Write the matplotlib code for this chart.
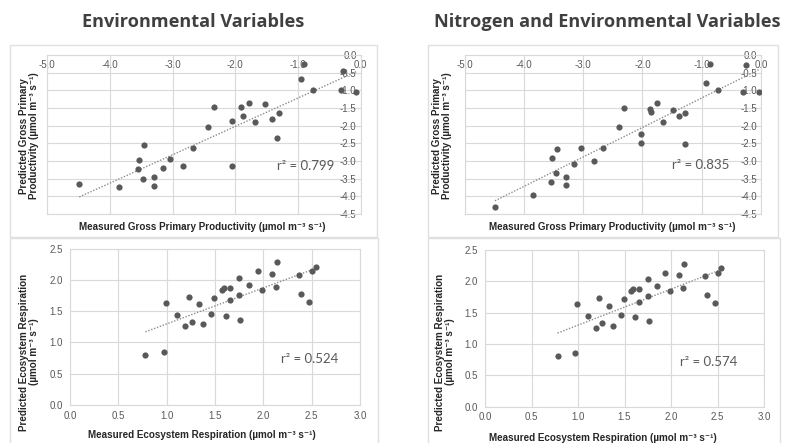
import numpy as np
import matplotlib
matplotlib.use("Agg")
import matplotlib.pyplot as plt
from matplotlib.patches import Rectangle

# measured vs predicted GPP (environmental variables only)
gpp_meas_env = [-4.49, -3.86, -3.46, -3.54, -3.56, -3.47, -3.30, -3.30, -3.16, -3.05,
                -2.84, -2.67, -2.43, -2.34, -2.05, -2.05, -1.91, -1.88, -1.79, -1.69,
                -1.52, -1.42, -1.31, -1.33, -0.96, -0.91, -0.76, -0.29, -0.32, -0.07]
gpp_pred_env = [-3.66, -3.75, -2.55, -2.98, -3.22, -3.50, -3.46, -3.71, -3.19, -2.93,
                -3.13, -2.63, -2.04, -1.48, -1.86, -3.14, -1.46, -1.72, -1.36, -1.89,
                -1.38, -1.81, -1.63, -2.34, -0.68, -0.25, -0.98, -0.44, -0.99, -1.04]

# measured vs predicted GPP (nitrogen + environmental variables)
gpp_meas_n = [-4.49, -3.85, -3.45, -3.53, -3.46, -3.54, -3.29, -3.29, -3.15, -3.03,
              -2.82, -2.66, -2.40, -2.31, -2.03, -2.03, -1.88, -1.86, -1.76, -1.66,
              -1.49, -1.39, -1.28, -1.29, -0.92, -0.86, -0.73, -0.26, -0.30, -0.04]
gpp_pred_n = [-4.29, -3.95, -2.65, -2.92, -3.35, -3.59, -3.46, -3.69, -3.08, -2.62,
              -2.99, -2.62, -2.05, -1.49, -2.23, -2.48, -1.53, -1.62, -1.35, -1.90,
              -1.56, -1.72, -1.65, -2.51, -0.79, -0.25, -0.99, -0.29, -1.05, -1.06]

# measured vs predicted ecosystem respiration
er_meas = [0.78, 0.97, 0.99, 1.11, 1.19, 1.23, 1.26, 1.33, 1.38, 1.46,
           1.49, 1.57, 1.59, 1.66, 1.66, 1.61, 1.75, 1.75, 1.76, 1.85,
           1.94, 1.99, 2.09, 2.14, 2.13, 2.37, 2.39, 2.47, 2.50, 2.54]
er_pred_env = [0.80, 0.85, 1.63, 1.44, 1.26, 1.73, 1.32, 1.61, 1.29, 1.45,
               1.71, 1.84, 1.87, 1.87, 1.67, 1.42, 2.03, 1.75, 1.36, 1.92,
               2.14, 1.84, 2.09, 2.28, 1.89, 2.08, 1.78, 1.65, 2.14, 2.20]
er_pred_n = [0.81, 0.86, 1.64, 1.44, 1.26, 1.73, 1.33, 1.61, 1.29, 1.46,
             1.72, 1.84, 1.88, 1.87, 1.67, 1.43, 2.04, 1.76, 1.37, 1.93,
             2.14, 1.85, 2.10, 2.28, 1.89, 2.08, 1.79, 1.66, 2.14, 2.21]

r2_labels = ["r\u00b2 = 0.799", "r\u00b2 = 0.835", "r\u00b2 = 0.524", "r\u00b2 = 0.574"]
titles = ["Environmental Variables", "Nitrogen and Environmental Variables"]

W, H = 786, 443
GRID = "#d9d9d9"
TXT = "#595959"
DOT = "#595959"
LBL_FONT = ["Liberation Sans", "DejaVu Sans"]
TICK_SIZE = 7
LABEL_SIZE = 7.1

fig = plt.figure(figsize=(W / 100, H / 100), dpi=100)
fig.patch.set_facecolor("white")


def px_axes(x0, y0, x1, y1):
    # pixel box (top-left origin) -> figure axes
    return fig.add_axes([x0 / W, 1 - y1 / H, (x1 - x0) / W, (y1 - y0) / H])


def frame(x0, y0, x1, y1):
    fig.patches.append(Rectangle((x0 / W, 1 - y1 / H), (x1 - x0) / W, (y1 - y0) / H,
                                 transform=fig.transFigure, fill=False,
                                 edgecolor="#e0e0e0", lw=1.0))


def style(ax):
    ax.set_facecolor("white")
    ax.grid(True, color=GRID, lw=0.8)
    ax.set_axisbelow(True)
    for s in ax.spines.values():
        s.set_color(GRID)
        s.set_linewidth(0.8)
    ax.tick_params(length=0, labelsize=TICK_SIZE, labelcolor=TXT)
    for t in ax.get_xticklabels() + ax.get_yticklabels():
        t.set_family(LBL_FONT)


def scatter_fit(ax, x, y):
    x = np.asarray(x)
    y = np.asarray(y)
    ax.scatter(x, y, s=20, color=DOT, zorder=3, linewidths=0)
    k, b = np.polyfit(x, y, 1)
    xs = np.array([x.min(), x.max()])
    ax.plot(xs, k * xs + b, color="#8c8c8c", lw=1.0, ls=(0, (1, 1.2)), zorder=2)


def gpp_panel(box, x, y, r2, r2pos, xlab_x, ylab_x):
    ax = px_axes(*box)
    scatter_fit(ax, x, y)
    ax.set_xlim(-5, 0)
    ax.set_ylim(-4.5, 0)
    ax.set_xticks(np.arange(-5, 0.01, 1.0))
    ax.set_yticks(np.arange(-4.5, 0.01, 0.5))
    ax.xaxis.set_major_formatter(matplotlib.ticker.FormatStrFormatter("%.1f"))
    ax.yaxis.set_major_formatter(matplotlib.ticker.FormatStrFormatter("%.1f"))
    ax.xaxis.tick_top()
    ax.yaxis.tick_right()
    style(ax)
    ax.tick_params(axis="x", pad=-10.5)
    ax.tick_params(axis="y", pad=-3)
    for t in ax.get_yticklabels():
        t.set_ha("right")
    ax.text(r2pos[0], r2pos[1], r2, fontsize=9.5, color=TXT, family="Lato",
            ha="left", va="center")
    fig.text(xlab_x / W, 1 - 227 / H,
             "Measured Gross Primary Productivity (\u00b5mol m\u207b\u00b3 s\u207b\u00b9)",
             fontsize=LABEL_SIZE, fontweight="bold", color="#262626", family=LBL_FONT,
             ha="center", va="center")
    fig.text(ylab_x / W, 1 - 136 / H,
             "Predicted Gross Primary\nProductivity (\u00b5mol m\u207b\u00b3 s\u207b\u00b9)",
             fontsize=LABEL_SIZE, fontweight="bold", color="#262626", family=LBL_FONT,
             rotation=90, ha="center", va="center", linespacing=1.1)
    return ax


def er_panel(box, x, y, r2, r2pos, xlab_x, xlab_y, ylab_x):
    ax = px_axes(*box)
    scatter_fit(ax, x, y)
    ax.set_xlim(0, 3)
    ax.set_ylim(0, 2.5)
    ax.set_xticks(np.arange(0, 3.01, 0.5))
    ax.set_yticks(np.arange(0, 2.51, 0.5))
    ax.xaxis.set_major_formatter(matplotlib.ticker.FormatStrFormatter("%.1f"))
    ax.yaxis.set_major_formatter(matplotlib.ticker.FormatStrFormatter("%.1f"))
    style(ax)
    ax.tick_params(axis="x", pad=4)
    ax.tick_params(axis="y", pad=5)
    ax.text(r2pos[0], r2pos[1], r2, fontsize=9.5, color=TXT, family="Lato",
            ha="left", va="center")
    fig.text(xlab_x / W, 1 - xlab_y / H,
             "Measured Ecosystem Respiration (\u00b5mol m\u207b\u00b3 s\u207b\u00b9)",
             fontsize=LABEL_SIZE, fontweight="bold", color="#262626", family=LBL_FONT,
             ha="center", va="center")
    fig.text(ylab_x / W, 1 - 352 / H,
             "Predicted Ecosystem Respiration\n(\u00b5mol m\u207b\u00b3 s\u207b\u00b9)",
             fontsize=LABEL_SIZE, fontweight="bold", color="#262626", family=LBL_FONT,
             rotation=90, ha="center", va="center", linespacing=1.1)
    return ax


# panel frames
frame(10, 45, 377, 237)
frame(10, 238, 378, 446)
frame(428, 45, 778, 237)
frame(428, 238, 780, 446)

gpp_panel((47.3, 55, 360.7, 214), gpp_meas_env, gpp_pred_env, r2_labels[0],
          (-1.34, -3.15), 202, 29)
gpp_panel((464.7, 55, 761, 214), gpp_meas_n, gpp_pred_n, r2_labels[1],
          (-1.51, -3.10), 612, 442)
er_panel((70, 248.5, 360, 405), er_meas, er_pred_env, r2_labels[2],
         (2.18, 0.73), 202, 435, 29)
er_panel((485, 250, 764, 406.7), er_meas, er_pred_n, r2_labels[3],
         (2.10, 0.72), 603, 438, 445)

fig.text(193 / W, 1 - 22 / H, titles[0], fontsize=13.1, fontweight="bold",
         color="#404040", family="Open Sans", ha="center", va="center")
fig.text(607 / W, 1 - 22 / H, titles[1], fontsize=13.1, fontweight="bold",
         color="#404040", family="Open Sans", ha="center", va="center")

fig.savefig("out.png", dpi=100, facecolor="white")
